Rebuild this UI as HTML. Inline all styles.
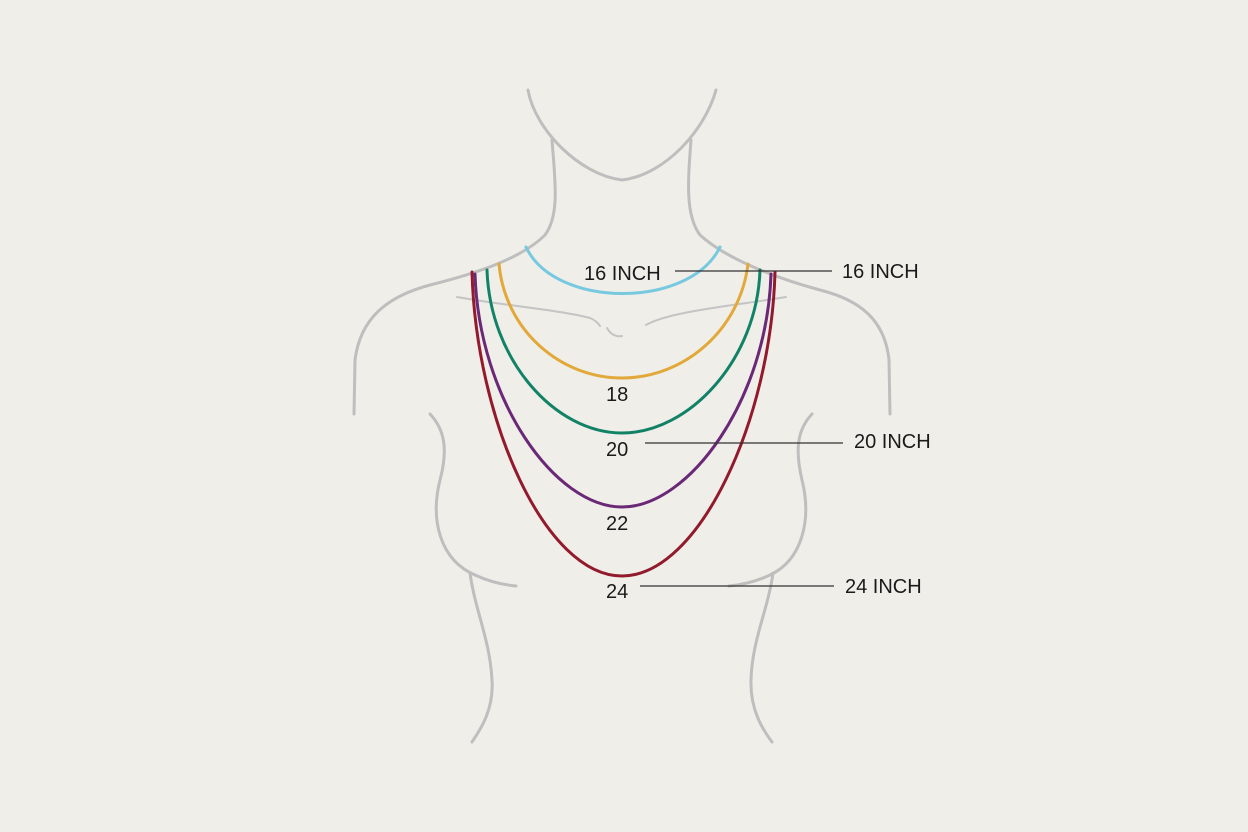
<!DOCTYPE html>
<html><head><style>
html,body{margin:0;padding:0;background:#efeee9;}
svg{display:block;}
text{font-family:"Liberation Sans",sans-serif;fill:#1a1a1a;font-size:20px;}
</style></head><body>
<svg width="1248" height="832" viewBox="0 0 1248 832">
<rect width="1248" height="832" fill="#efeee9"/>
<g fill="none" stroke="#bebebe" stroke-width="3" stroke-linecap="round">
<path d="M528,90 C535,130 580,175 622,180 C665,175 705,130 716,90"/>
<path d="M552,140 C555,180 560,215 545,235 C520,260 470,275 430,285 C385,297 360,320 355,360 L354,414"/>
<path d="M691,140 C688,180 685,215 700,235 C725,258 775,278 820,290 C860,300 885,320 889,360 L890,414"/>
<path d="M430,414 C445,430 448,450 440,480 C430,520 440,560 475,575 C490,582 505,585 516,586"/>
<path d="M812,414 C797,430 795,450 802,480 C812,520 802,560 770,575 C755,582 740,585 729,586"/>
<path d="M470,573 C475,610 490,640 492,680 C494,710 480,730 472,742"/>
<path d="M773,573 C768,610 752,640 751,680 C750,710 763,730 772,742"/>
</g>
<g fill="none" stroke="#c4c4c4" stroke-width="2" stroke-linecap="round">
<path d="M457,297 C500,305 560,310 590,318 C595,320 598,323 600,326"/>
<path d="M607,328 C611,335 616,337 622,336"/>
<path d="M646,325 C670,311 740,305 786,297"/>
</g>
<g fill="none" stroke-width="3" stroke-linecap="round">
<path d="M526,247 C555,309 690,309 720,247" stroke="#77c9e0"/>
<path d="M499,264 C505,330 560,378 622,378 C684,378 740,330 748,264" stroke="#e2a93a"/>
<path d="M487,270 C490,360 555,433 622,433 C689,433 757,360 760,270" stroke="#128267"/>
<path d="M472,272 C476,420 545,576 622,576 C699,576 771,420 775,272" stroke="#931a2c"/>
<path d="M475,274 C479,400 555,507 622,507 C689,507 767,400 771,274" stroke="#6a2877"/>
</g>
<g stroke="#333" stroke-width="1.3">
<line x1="675" y1="271" x2="832" y2="271"/>
<line x1="645" y1="443" x2="843" y2="443"/>
<line x1="640" y1="586" x2="834" y2="586"/>
</g>
<text x="584" y="280">16 INCH</text>
<text x="842" y="278">16 INCH</text>
<text x="606" y="401">18</text>
<text x="606" y="456">20</text>
<text x="854" y="448">20 INCH</text>
<text x="606" y="530">22</text>
<text x="606" y="598">24</text>
<text x="845" y="593">24 INCH</text>
</svg>
</body></html>
